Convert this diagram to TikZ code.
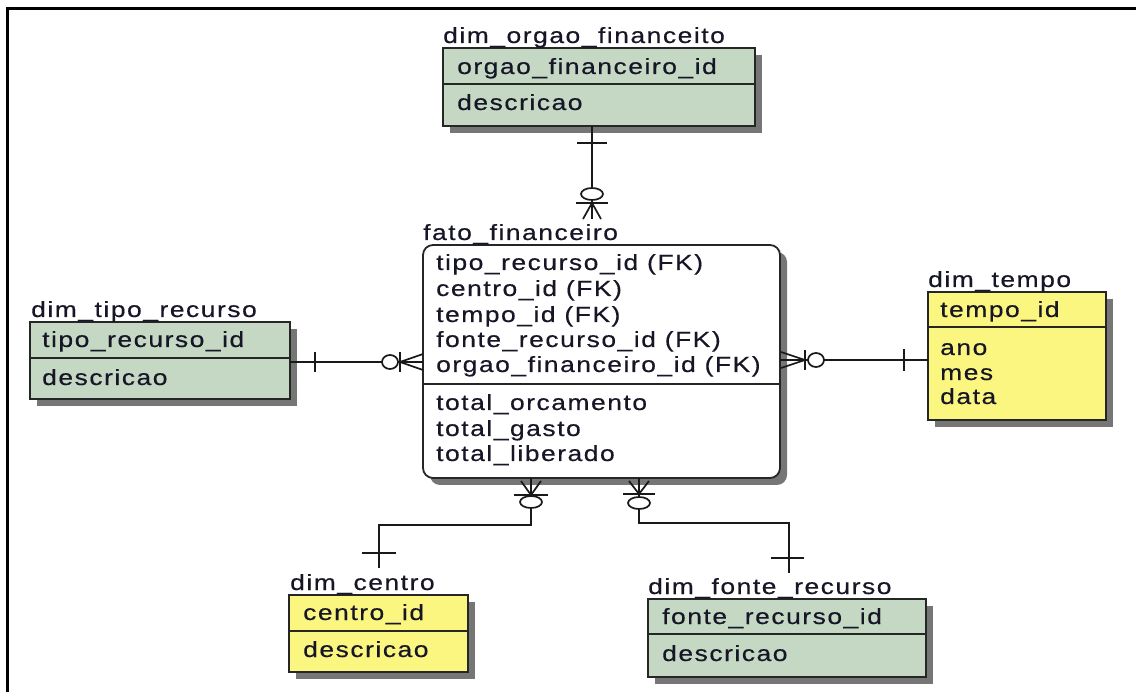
\documentclass[tikz,border=0pt]{standalone}
\usepackage{fontspec}
\setmainfont{Liberation Sans}[FakeStretch=1.2,LetterSpace=7,FakeBold=0.4]
\usetikzlibrary{shadows,calc}

\definecolor{dimgreen}{RGB}{196,216,196}
\definecolor{dimyellow}{RGB}{250,246,128}
\definecolor{inkc}{RGB}{22,22,38}
\definecolor{shadec}{RGB}{118,118,118}

\tikzset{
  entity/.style={draw=black!85, line width=1.8pt, anchor=north west, inner sep=0pt, outer sep=0pt,
    general shadow={fill=shadec, shadow xshift=7pt, shadow yshift=-7pt}},
  divider/.style={draw=black!85, line width=1.8pt},
  etitle/.style={anchor=base west, inner sep=0pt, text=inkc},
  attr/.style={anchor=base west, inner sep=0pt, text=inkc},
  rel/.style={draw=black!90, line width=1.7pt},
  optring/.style={rel, fill=white},
}

\begin{document}
\begin{tikzpicture}[x=1pt, y=-1pt, font=\fontsize{22}{26}\selectfont]
\useasboundingbox[fill=white] (0,0) rectangle (1136,692);

% outer frame (top and left edges only)
\draw[line width=3pt] (7.5,692) -- (7.5,8.3) -- (1136,8.3);

% ---------- entities ----------
\node[entity, fill=dimgreen, minimum width=312pt, minimum height=78pt] (org) at (443,48) {};
\draw[divider] (org.west |- 0,84) -- (org.east |- 0,84);
\node[etitle] (org-t) at (443,43) {dim\_orgao\_financeito};
\node[attr] (org-a1) at (457,74) {orgao\_financeiro\_id};
\node[attr] (org-a2) at (457,110) {descricao};

\node[entity, fill=white, rounded corners=10pt, minimum width=357pt, minimum height=233pt] (fact) at (423,245) {};
\draw[divider] (fact.west |- 0,384) -- (fact.east |- 0,384);
\node[etitle] (fact-t) at (423,240) {fato\_financeiro};
\node[attr] (fact-a1) at (436,270) {tipo\_recurso\_id (FK)};
\node[attr] (fact-a2) at (436,296) {centro\_id (FK)};
\node[attr] (fact-a3) at (436,322) {tempo\_id (FK)};
\node[attr] (fact-a4) at (436,347) {fonte\_recurso\_id (FK)};
\node[attr] (fact-a5) at (436,372) {orgao\_financeiro\_id (FK)};
\node[attr] (fact-a6) at (436,410) {total\_orcamento};
\node[attr] (fact-a7) at (436,436) {total\_gasto};
\node[attr] (fact-a8) at (436,461) {total\_liberado};

\node[entity, fill=dimgreen, minimum width=260pt, minimum height=77pt] (tipo) at (30,322) {};
\draw[divider] (tipo.west |- 0,358) -- (tipo.east |- 0,358);
\node[etitle] (tipo-t) at (31,317) {dim\_tipo\_recurso};
\node[attr] (tipo-a1) at (42,347) {tipo\_recurso\_id};
\node[attr] (tipo-a2) at (42,385) {descricao};

\node[entity, fill=dimyellow, minimum width=178pt, minimum height=128pt] (tempo) at (928,292) {};
\draw[divider] (tempo.west |- 0,327) -- (tempo.east |- 0,327);
\node[etitle] (tempo-t) at (928,287) {dim\_tempo};
\node[attr] (tempo-a1) at (940,317) {tempo\_id};
\node[attr] (tempo-a2) at (940,355) {ano};
\node[attr] (tempo-a3) at (940,380) {mes};
\node[attr] (tempo-a4) at (940,404) {data};

\node[entity, fill=dimyellow, minimum width=179pt, minimum height=77pt] (centro) at (289,595) {};
\draw[divider] (centro.west |- 0,631) -- (centro.east |- 0,631);
\node[etitle] (centro-t) at (290,590) {dim\_centro};
\node[attr] (centro-a1) at (303,620) {centro\_id};
\node[attr] (centro-a2) at (303,657) {descricao};

\node[entity, fill=dimgreen, minimum width=278pt, minimum height=78pt] (fonte) at (648,599) {};
\draw[divider] (fonte.west |- 0,634) -- (fonte.east |- 0,634);
\node[etitle] (fonte-t) at (648,594) {dim\_fonte\_recurso};
\node[attr] (fonte-a1) at (662,624) {fonte\_recurso\_id};
\node[attr] (fonte-a2) at (662,661) {descricao};

% ---------- relationships ----------
% dim_orgao_financeito -> fato_financeiro
\coordinate (end-org) at (592,219);
\draw[rel] (end-org |- org.south) -- (end-org);
\draw[rel] (577,143) -- (607,143);
\draw[rel] (576,203) -- (608,203);
\draw[rel] (583,219) -- (592,203) -- (601,219);
\draw[optring] (592,194) ellipse [x radius=11, y radius=6];

% dim_tipo_recurso -> fato_financeiro
\draw[rel] (tipo.east |- 0,362) -- (fact.west |- 0,362);
\draw[rel] (315,352) -- (315,372);
\draw[rel] (400,352) -- (400,372);
\draw[rel] (423,354) -- (400,362) -- (423,370);
\draw[optring] (390,362) ellipse [x radius=8, y radius=7];

% dim_tempo -> fato_financeiro
\draw[rel] (fact.east |- 0,360) -- (tempo.west |- 0,360);
\draw[rel] (904,349) -- (904,371);
\draw[rel] (805,350) -- (805,370);
\draw[rel] (781,352) -- (805,360) -- (781,368);
\draw[optring] (816,360) ellipse [x radius=8, y radius=7];

% dim_centro -> fato_financeiro
\coordinate (end-centro) at (379,568);
\draw[rel] (fact.south -| 531,0) -- (531,525) -- (end-centro |- 0,525) -- (end-centro);
\draw[rel] (362,553) -- (396,553);
\draw[rel] (514,495) -- (548,495);
\draw[rel] (521,481) -- (531,495) -- (541,481);
\draw[optring] (531,502) ellipse [x radius=11, y radius=6];

% dim_fonte_recurso -> fato_financeiro
\coordinate (end-fonte) at (789,573);
\draw[rel] (fact.south -| 639,0) -- (639,523) -- (end-fonte |- 0,523) -- (end-fonte);
\draw[rel] (771,558) -- (804,558);
\draw[rel] (623,494) -- (655,494);
\draw[rel] (629,481) -- (639,494) -- (649,481);
\draw[optring] (639,503) ellipse [x radius=11, y radius=6];
\end{tikzpicture}
\end{document}
